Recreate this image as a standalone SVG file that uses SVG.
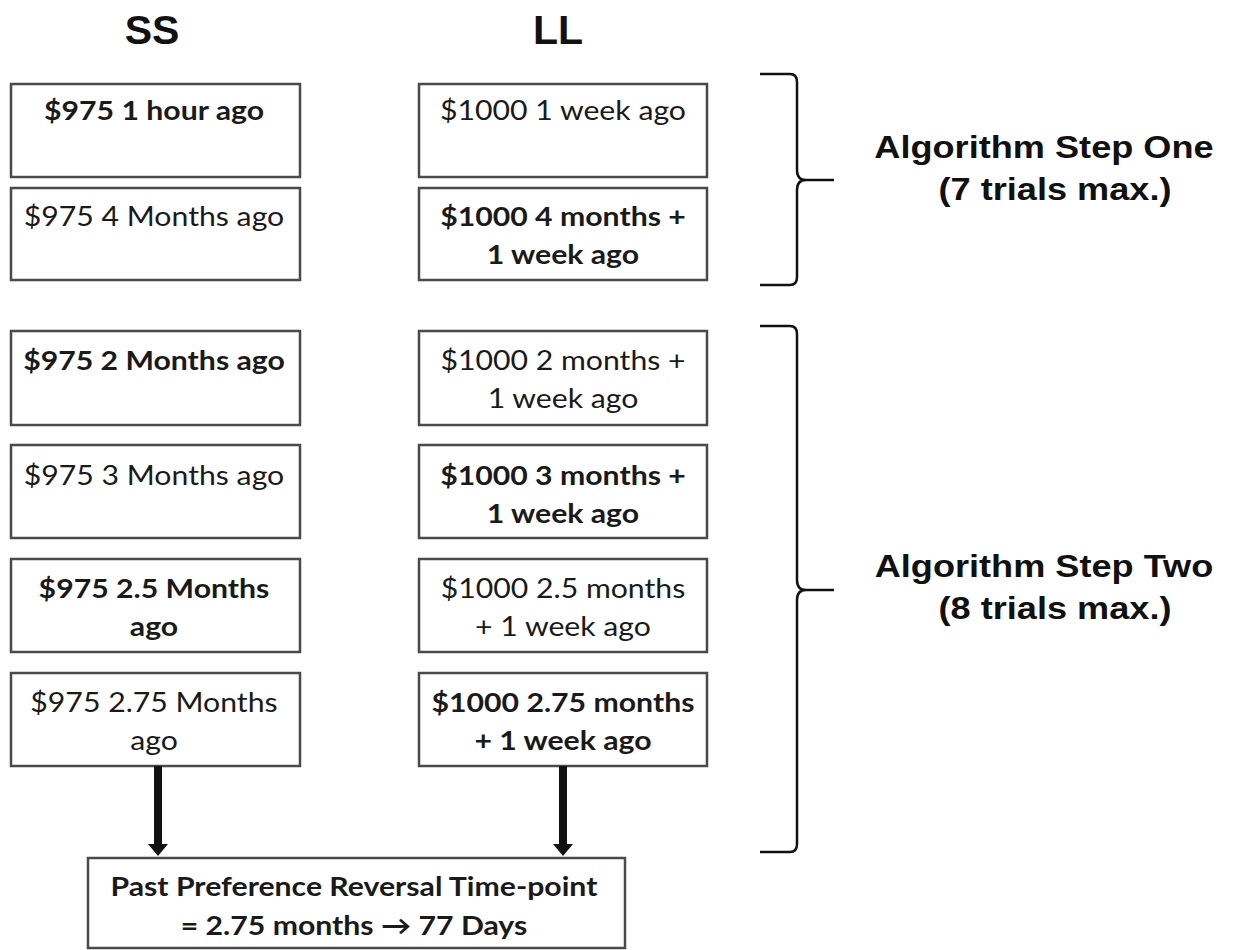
<svg xmlns="http://www.w3.org/2000/svg" width="1235" height="950" viewBox="0 0 1235 950">
<defs>
<style>
.box{fill:#fff;stroke:#4a4a4a;stroke-width:2.5}
.t{font-family:Lato,"Open Sans",sans-serif;font-size:26.5px;fill:#1a1a1a;text-anchor:middle;transform-box:fill-box;transform-origin:center;transform:scaleX(1.14)}
.b{font-weight:bold}
.h{font-family:"Liberation Sans",Arial,sans-serif;font-weight:bold;font-size:41px;fill:#111;text-anchor:middle}
.lab{font-family:"Liberation Sans",Arial,sans-serif;font-weight:bold;font-size:32px;fill:#111;text-anchor:middle;transform-box:fill-box;transform-origin:center;transform:scaleX(1.13)}
.br{fill:none;stroke:#111;stroke-width:2.5}
.ar{stroke:#111;stroke-width:8}
</style>
<marker id="ah" markerWidth="22" markerHeight="22" refX="2" refY="11" orient="auto" markerUnits="userSpaceOnUse">
<path d="M0,1 L12,11 L0,21 z" fill="#111"/>
</marker>
</defs>
<rect width="1235" height="950" fill="#fff"/>
<g id="headers">
<text class="h" x="152" y="44">SS</text>
<text class="h" x="558" y="44">LL</text>
</g>
<g id="ss1"><rect class="box" x="11" y="84" width="289" height="93"/><text class="t b" x="154" y="120">$975 1 hour ago</text></g>
<g id="ll1"><rect class="box" x="419" y="84" width="288" height="93"/><text class="t" x="563" y="120">$1000 1 week ago</text></g>
<g id="ss2"><rect class="box" x="11" y="188" width="289" height="92"/><text class="t" x="154" y="226">$975 4 Months ago</text></g>
<g id="ll2"><rect class="box" x="419" y="188" width="288" height="92"/><text class="t b" x="563" y="226">$1000 4 months +</text><text class="t b" x="563" y="264">1 week ago</text></g>
<g id="ss3"><rect class="box" x="11" y="331" width="289" height="94"/><text class="t b" x="154" y="370">$975 2 Months ago</text></g>
<g id="ll3"><rect class="box" x="419" y="331" width="288" height="94"/><text class="t" x="563" y="370">$1000 2 months +</text><text class="t" x="563" y="408">1 week ago</text></g>
<g id="ss4"><rect class="box" x="11" y="445" width="289" height="93"/><text class="t" x="154" y="485">$975 3 Months ago</text></g>
<g id="ll4"><rect class="box" x="419" y="445" width="288" height="93"/><text class="t b" x="563" y="485">$1000 3 months +</text><text class="t b" x="563" y="523">1 week ago</text></g>
<g id="ss5"><rect class="box" x="11" y="559" width="289" height="93"/><text class="t b" x="154" y="598">$975 2.5 Months</text><text class="t b" x="154" y="636">ago</text></g>
<g id="ll5"><rect class="box" x="419" y="559" width="288" height="93"/><text class="t" x="563" y="598">$1000 2.5 months</text><text class="t" x="563" y="636">+ 1 week ago</text></g>
<g id="ss6"><rect class="box" x="11" y="673" width="289" height="93"/><text class="t" x="154" y="712">$975 2.75 Months</text><text class="t" x="154" y="750">ago</text></g>
<g id="ll6"><rect class="box" x="419" y="673" width="288" height="93"/><text class="t b" x="563" y="712">$1000 2.75 months</text><text class="t b" x="563" y="750">+ 1 week ago</text></g>
<g id="result"><rect class="box" x="88" y="858" width="537" height="90"/><text class="t b" x="354" y="896">Past Preference Reversal Time-point</text><text class="t b" x="354" y="935">= 2.75 months → 77 Days</text></g>
<g id="connectors">
<line class="ar" x1="158" y1="766" x2="158" y2="846" marker-end="url(#ah)"/>
<line class="ar" x1="563" y1="766" x2="563" y2="846" marker-end="url(#ah)"/>
</g>
<g id="bracket1">
<path class="br" d="M760,74 L790,74 Q797,74 797,82 L797,170 Q797,180 806,180 L834,180 M806,180 Q797,180 797,190 L797,277 Q797,285 790,285 L760,285"/>
<text class="lab" x="1044" y="158">Algorithm Step One</text>
<text class="lab" x="1055" y="200">(7 trials max.)</text>
</g>
<g id="bracket2">
<path class="br" d="M760,326 L790,326 Q797,326 797,334 L797,580 Q797,590 806,590 L834,590 M806,590 Q797,590 797,600 L797,844 Q797,852 790,852 L760,852"/>
<text class="lab" x="1044" y="577">Algorithm Step Two</text>
<text class="lab" x="1055" y="619">(8 trials max.)</text>
</g>
</svg>
